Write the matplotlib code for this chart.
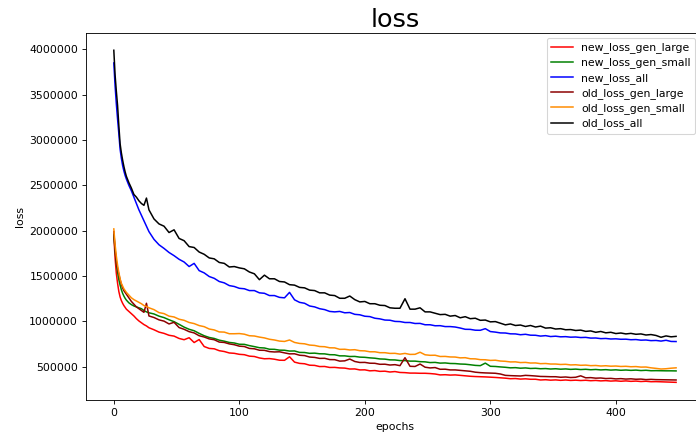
import numpy as np
import matplotlib
matplotlib.use('Agg')
import matplotlib.pyplot as plt

# epochs the values were read at (dense at the start, every 4 later)
epochs = list(range(0, 11)) + list(range(12, 29, 2)) + list(range(32, 449, 4))

# loss values in thousands
new_loss_gen_large = [1950, 1700, 1530, 1420, 1330, 1270, 1230, 1200, 1175, 1155, 1135,
                      1110, 1085, 1060, 1030, 1005, 985, 965, 950, 930,
                      908, 882, 868, 847, 838, 812, 798, 820, 767, 800,
                      723, 702, 698, 677, 668, 652, 648, 637, 633, 617,
                      613, 597, 588, 590, 583, 572, 571, 610, 551, 537,
                      533, 517, 515, 502, 503, 492, 493, 487, 485, 475,
                      476, 465, 466, 455, 458, 449, 451, 442, 447, 437,
                      435, 430, 430, 428, 428, 425, 420, 410, 412, 408,
                      410, 405, 400, 395, 392, 390, 388, 385, 382, 378,
                      374, 368, 370, 364, 367, 362, 362, 354, 357, 352,
                      355, 350, 354, 349, 352, 348, 351, 346, 349, 344,
                      347, 342, 345, 340, 344, 339, 342, 337, 340, 335,
                      336, 334, 332, 330, 328]

new_loss_gen_small = [1960, 1780, 1640, 1540, 1460, 1400, 1350, 1310, 1280, 1255, 1235,
                      1205, 1185, 1170, 1160, 1150, 1140, 1120, 1105, 1095,
                      1082, 1058, 1042, 1018, 997, 968, 937, 913, 897, 868,
                      842, 823, 812, 793, 782, 768, 762, 748, 747, 733,
                      722, 710, 707, 693, 692, 683, 682, 673, 674, 658,
                      657, 648, 650, 643, 642, 633, 632, 620, 620, 613,
                      614, 606, 604, 598, 594, 586, 584, 576, 575, 568,
                      568, 562, 562, 556, 554, 546, 548, 540, 542, 536,
                      535, 530, 528, 522, 515, 512, 540, 505, 503, 498,
                      494, 488, 490, 484, 487, 481, 483, 478, 480, 475,
                      478, 473, 476, 471, 474, 469, 472, 467, 470, 465,
                      468, 463, 466, 461, 464, 460, 463, 458, 461, 456,
                      457, 456, 455, 455, 454]

new_loss_all = [3850, 3600, 3400, 3230, 3070, 2900, 2800, 2720, 2660, 2610, 2570,
                2500, 2440, 2370, 2300, 2230, 2170, 2110, 2050, 1990,
                1905, 1845, 1805, 1760, 1725, 1685, 1655, 1605, 1640, 1560,
                1535, 1495, 1475, 1440, 1425, 1395, 1385, 1365, 1360, 1340,
                1340, 1315, 1310, 1285, 1285, 1265, 1260, 1320, 1238, 1210,
                1200, 1170, 1160, 1140, 1130, 1110, 1105, 1110, 1095, 1098,
                1078, 1073, 1057, 1053, 1035, 1028, 1015, 1013, 1000, 998,
                988, 988, 977, 978, 963, 963, 952, 953, 943, 943,
                938, 927, 913, 912, 903, 902, 920, 888, 882, 873,
                872, 863, 862, 853, 858, 848, 847, 838, 843, 833,
                837, 830, 832, 826, 828, 822, 824, 816, 817, 810,
                812, 806, 808, 803, 804, 798, 800, 793, 795, 788,
                790, 783, 792, 779, 778]

old_loss_gen_large = [1990, 1800, 1660, 1580, 1520, 1460, 1410, 1370, 1340, 1320, 1300,
                      1260, 1220, 1190, 1160, 1140, 1120, 1100, 1200, 1060,
                      1043, 1017, 1003, 972, 990, 932, 913, 887, 873, 842,
                      828, 807, 798, 772, 768, 752, 743, 727, 723, 702,
                      698, 682, 681, 667, 663, 665, 653, 642, 643, 627,
                      623, 607, 603, 592, 593, 579, 578, 562, 565, 585,
                      558, 547, 548, 539, 538, 527, 528, 519, 523, 512,
                      600, 505, 503, 530, 495, 487, 491, 472, 473, 465,
                      465, 460, 455, 450, 440, 435, 432, 430, 428, 420,
                      405, 402, 400, 398, 405, 402, 398, 393, 392, 390,
                      390, 384, 387, 381, 384, 400, 378, 380, 374, 376,
                      370, 372, 366, 369, 364, 367, 362, 364, 358, 361,
                      358, 357, 356, 355, 354]

old_loss_gen_small = [2020, 1850, 1720, 1620, 1540, 1470, 1420, 1390, 1360, 1340, 1320,
                      1290, 1260, 1240, 1225, 1210, 1195, 1175, 1165, 1150,
                      1130, 1097, 1086, 1058, 1049, 1024, 1012, 988, 976, 954,
                      942, 916, 906, 884, 882, 864, 864, 866, 859, 842,
                      839, 827, 818, 803, 795, 783, 779, 795, 768, 757,
                      753, 739, 735, 723, 721, 709, 708, 692, 693, 685,
                      688, 677, 675, 665, 665, 655, 655, 647, 648, 639,
                      647, 636, 637, 660, 632, 626, 627, 613, 614, 608,
                      607, 598, 600, 588, 587, 578, 577, 570, 572, 563,
                      560, 553, 554, 546, 548, 541, 542, 534, 536, 530,
                      530, 525, 527, 520, 522, 516, 518, 512, 514, 508,
                      511, 506, 508, 503, 505, 500, 502, 496, 497, 488,
                      482, 475, 478, 484, 488]

old_loss_all = [3990, 3720, 3540, 3380, 3160, 2960, 2860, 2780, 2710, 2650, 2600,
                2530, 2470, 2400, 2370, 2330, 2300, 2280, 2360, 2230,
                2130, 2075, 2050, 1980, 2010, 1915, 1890, 1825, 1815, 1765,
                1740, 1700, 1690, 1650, 1640, 1600, 1605, 1590, 1580, 1545,
                1525, 1460, 1510, 1470, 1470, 1440, 1435, 1405, 1400, 1375,
                1370, 1345, 1340, 1315, 1315, 1290, 1285, 1255, 1255, 1280,
                1240, 1215, 1220, 1195, 1195, 1178, 1175, 1150, 1145, 1145,
                1250, 1135, 1135, 1150, 1105, 1105, 1090, 1075, 1078, 1058,
                1065, 1040, 1052, 1030, 1035, 1012, 1015, 995, 998, 980,
                962, 972, 955, 960, 944, 955, 938, 948, 926, 930,
                916, 920, 908, 910, 900, 904, 890, 895, 880, 889,
                874, 880, 866, 872, 862, 868, 858, 862, 850, 855,
                845, 825, 840, 830, 835]

series = [('new_loss_gen_large', new_loss_gen_large, 'red'),
          ('new_loss_gen_small', new_loss_gen_small, 'green'),
          ('new_loss_all', new_loss_all, 'blue'),
          ('old_loss_gen_large', old_loss_gen_large, 'darkred'),
          ('old_loss_gen_small', old_loss_gen_small, 'darkorange'),
          ('old_loss_all', old_loss_all, 'black')]

dpi = 78
fig = plt.figure(figsize=(696 / dpi, 441 / dpi), dpi=dpi)
# axes runs past the right edge, like the cropped original
ax = fig.add_axes([85.7 / 696, 40.7 / 441, 618.5 / 696, 367.0 / 441])

for name, vals, c in series:
    ax.plot(epochs, np.array(vals) * 1000, color=c, lw=1.4, label=name)

ax.set_xlim(-22.4, 470.4)
ax.set_ylim(130000, 4177000)
ax.set_yticks([500000, 1000000, 1500000, 2000000, 2500000, 3000000, 3500000, 4000000])
ax.set_yticklabels(['500000', '1000000', '1500000', '2000000', '2500000', '3000000', '3500000', '4000000'])
ax.set_xticks([0, 100, 200, 300, 400])
ax.set_title('loss', fontsize=23.5)
ax.set_xlabel('epochs')
ax.set_ylabel('loss')

ax.legend(loc='upper right', bbox_to_anchor=(695 / 696, 403 / 441),
          bbox_transform=fig.transFigure, borderaxespad=0, labelspacing=0.4)

fig.savefig('out.png', dpi=dpi)
